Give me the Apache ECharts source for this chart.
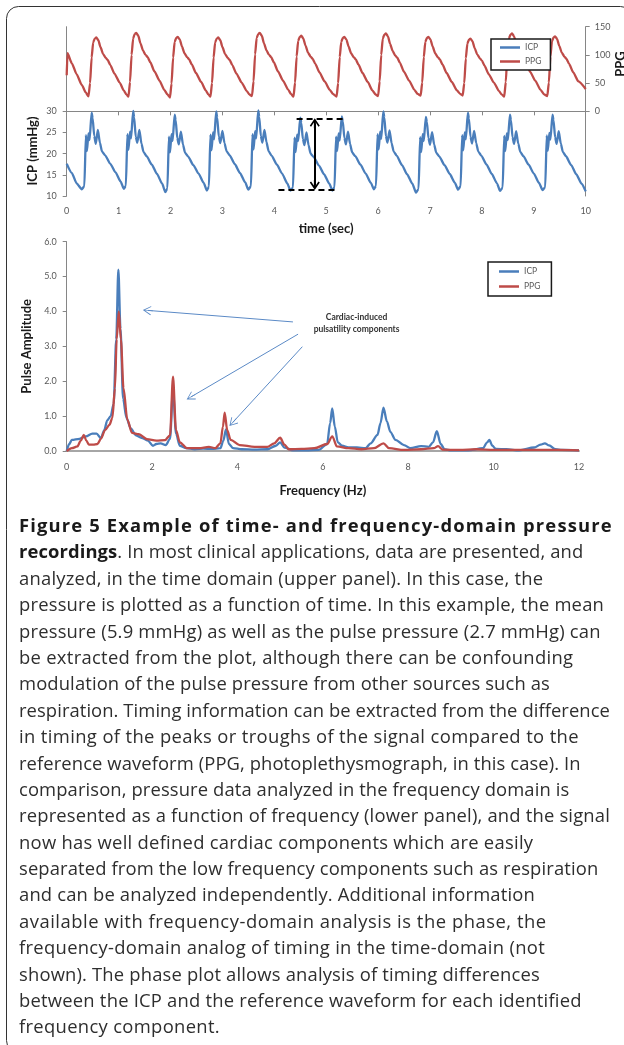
<!DOCTYPE html>
<html>
<head>
<meta charset="utf-8">
<script src="https://cdn.jsdelivr.net/npm/echarts@6/dist/echarts.min.js"></script>
<style>
  html, body { margin: 0; padding: 0; background: #fff; }
  #wrap { position: relative; width: 624px; height: 1045px; overflow: hidden; }
  #chart { position: absolute; left: 0; top: 0; width: 624px; height: 1045px; }
  #cap { position: absolute; left: 19px; top: 512px; font-family: "Open Sans", sans-serif; font-size: 18.4px;
         font-weight: 400; line-height: 26.4px; color: #2e2e2e; white-space: nowrap; }
  #cap > div { height: 26.4px; }
  #cap span.ln { display: inline-block; }
  #cap b { font-weight: 700; color: #1a1a1a; }
</style>
</head>
<body>
<div id="wrap">
  <div id="chart"></div>
  <div id="cap">
    <div><span class="ln"><b>Figure 5 Example of time- and frequency-domain pressure</b></span></div>
    <div><span class="ln"><b>recordings</b>. In most clinical applications, data are presented, and</span></div>
    <div><span class="ln">analyzed, in the time domain (upper panel). In this case, the</span></div>
    <div><span class="ln">pressure is plotted as a function of time. In this example, the mean</span></div>
    <div><span class="ln">pressure (5.9 mmHg) as well as the pulse pressure (2.7 mmHg) can</span></div>
    <div><span class="ln">be extracted from the plot, although there can be confounding</span></div>
    <div><span class="ln">modulation of the pulse pressure from other sources such as</span></div>
    <div><span class="ln">respiration. Timing information can be extracted from the difference</span></div>
    <div><span class="ln">in timing of the peaks or troughs of the signal compared to the</span></div>
    <div><span class="ln">reference waveform (PPG, photoplethysmograph, in this case). In</span></div>
    <div><span class="ln">comparison, pressure data analyzed in the frequency domain is</span></div>
    <div><span class="ln">represented as a function of frequency (lower panel), and the signal</span></div>
    <div><span class="ln">now has well defined cardiac components which are easily</span></div>
    <div><span class="ln">separated from the low frequency components such as respiration</span></div>
    <div><span class="ln">and can be analyzed independently. Additional information</span></div>
    <div><span class="ln">available with frequency-domain analysis is the phase, the</span></div>
    <div><span class="ln">frequency-domain analog of timing in the time-domain (not</span></div>
    <div><span class="ln">shown). The phase plot allows analysis of timing differences</span></div>
    <div><span class="ln">between the ICP and the reference waveform for each identified</span></div>
    <div><span class="ln">frequency component.</span></div>
  </div>
</div>
<script>
// ---------------- DATA ----------------
// Upper panel: time (sec) vs ICP (mmHg)
const icpTime = [
  [0,17.6],[0.1,15.4],[0.19,13.0],[0.29,11.6],
  [0.34,12.3],[0.37,24.4],[0.39,20.6],[0.42,24.8],[0.44,23.2],[0.48,29.7],[0.50,28.4],[0.53,24.2],[0.56,22.3],[0.60,25.6],[0.64,22.6],[0.68,20.5],[0.74,19.6],[0.84,17.6],[0.94,15.6],[1.04,13.4],[1.10,11.7],
  [1.14,12.4],[1.17,24.6],[1.19,20.9],[1.22,25.2],[1.24,23.6],[1.28,30.1],[1.30,28.6],[1.33,24.0],[1.36,22.6],[1.40,25.6],[1.44,22.4],[1.48,20.4],[1.54,19.4],[1.64,17.4],[1.74,15.2],[1.84,12.9],[1.90,10.9],
  [1.94,11.8],[1.97,24.0],[1.99,20.3],[2.02,24.6],[2.04,23.0],[2.08,29.2],[2.10,27.9],[2.13,23.7],[2.16,22.2],[2.20,25.2],[2.24,22.2],[2.28,20.2],[2.34,19.3],[2.44,17.3],[2.54,15.3],[2.64,13.1],[2.70,11.3],
  [2.74,12.2],[2.77,24.5],[2.79,20.8],[2.82,25.0],[2.84,23.4],[2.88,30.0],[2.90,28.5],[2.93,24.1],[2.96,22.5],[3.00,25.4],[3.04,22.5],[3.08,20.6],[3.14,19.6],[3.24,17.5],[3.34,15.4],[3.44,13.2],[3.50,11.5],
  [3.55,12.3],[3.58,24.6],[3.60,21.0],[3.63,25.3],[3.65,23.6],[3.69,30.2],[3.71,28.7],[3.74,24.2],[3.77,22.6],[3.81,25.6],[3.85,22.7],[3.89,20.6],[3.95,19.5],[4.05,17.4],[4.15,15.3],[4.25,13.0],[4.31,11.3],
  [4.36,12.0],[4.39,23.8],[4.41,20.4],[4.44,24.5],[4.46,23.0],[4.50,28.5],[4.52,27.3],[4.55,23.5],[4.58,22.0],[4.62,25.0],[4.66,22.0],[4.70,20.0],[4.76,19.2],[4.86,17.2],[4.96,15.1],[5.06,12.9],[5.12,11.3],
  [5.16,12.1],[5.19,24.0],[5.21,20.6],[5.24,24.8],[5.26,23.1],[5.30,28.8],[5.32,27.6],[5.35,23.8],[5.38,22.2],[5.42,25.2],[5.46,22.3],[5.50,20.3],[5.56,19.4],[5.66,17.4],[5.76,15.3],[5.86,13.1],[5.92,11.6],
  [5.96,12.4],[5.99,24.6],[6.01,21.0],[6.04,25.2],[6.06,23.5],[6.10,30.0],[6.12,28.6],[6.15,24.2],[6.18,22.6],[6.22,25.5],[6.26,22.5],[6.30,20.5],[6.36,19.5],[6.46,17.3],[6.56,15.1],[6.66,12.9],[6.73,10.8],
  [6.78,11.7],[6.81,23.9],[6.83,20.4],[6.86,24.6],[6.88,23.0],[6.92,28.7],[6.94,27.5],[6.97,23.7],[7.00,22.1],[7.04,25.1],[7.08,22.2],[7.12,20.2],[7.18,19.3],[7.28,17.3],[7.38,15.2],[7.48,13.1],[7.54,11.5],
  [7.59,12.3],[7.62,24.4],[7.64,20.8],[7.67,25.0],[7.69,23.4],[7.73,29.7],[7.75,28.3],[7.78,24.0],[7.81,22.4],[7.85,25.4],[7.89,22.5],[7.93,20.5],[7.99,19.5],[8.09,17.4],[8.19,15.2],[8.29,13.0],[8.35,11.2],
  [8.40,12.0],[8.43,24.2],[8.45,20.6],[8.48,24.8],[8.50,23.2],[8.54,29.2],[8.56,27.9],[8.59,23.9],[8.62,22.3],[8.66,25.3],[8.70,22.4],[8.74,20.4],[8.80,19.4],[8.90,17.4],[9.00,15.3],[9.10,13.1],[9.17,11.4],
  [9.22,12.1],[9.25,24.3],[9.27,20.7],[9.30,24.9],[9.32,23.3],[9.36,29.2],[9.38,27.9],[9.41,23.9],[9.44,22.3],[9.48,25.3],[9.52,22.4],[9.56,20.4],[9.62,19.4],[9.72,17.3],[9.82,15.1],[9.92,12.9],[10.0,11.1]
];
// Upper panel: time (sec) vs PPG
const ppgTime = [
  [0,64],[0.015,103],[0.1,85],[0.19,66],[0.29,47],[0.37,33],
  [0.42,26.5],[0.45,50],[0.48,95],[0.51,122],[0.54,129],[0.57,131],[0.61,126],[0.65,114],[0.70,102],[0.75,95],[0.79,91],[0.84,82],[0.92,67],[1.02,51],[1.10,37],[1.15,30],
  [1.19,26],[1.22,52],[1.25,100],[1.28,129],[1.31,137],[1.34,139],[1.38,134],[1.42,121],[1.47,108],[1.52,100],[1.56,96],[1.61,87],[1.69,71],[1.79,54],[1.88,38],[1.94,30],
  [1.99,24.5],[2.02,49],[2.05,95],[2.08,123],[2.11,130],[2.14,132],[2.18,127],[2.22,115],[2.27,103],[2.32,96],[2.36,92],[2.41,83],[2.49,68],[2.59,52],[2.68,37],[2.73,30],
  [2.77,26],[2.80,50],[2.83,95],[2.86,122],[2.89,129],[2.92,131],[2.96,126],[3.00,114],[3.05,102],[3.10,95],[3.14,91],[3.19,82],[3.27,67],[3.37,51],[3.47,36],[3.52,30],
  [3.57,27],[3.60,53],[3.63,101],[3.66,130],[3.69,137],[3.72,139],[3.76,134],[3.80,121],[3.85,108],[3.90,100],[3.94,96],[3.99,87],[4.07,71],[4.17,54],[4.27,38],[4.32,31],
  [4.37,26],[4.40,51],[4.43,97],[4.46,125],[4.49,132],[4.52,134],[4.56,129],[4.60,117],[4.65,104],[4.70,97],[4.74,93],[4.79,84],[4.87,69],[4.97,53],[5.07,38],[5.13,31],
  [5.20,26],[5.23,50],[5.26,96],[5.29,123],[5.32,130],[5.35,132],[5.39,127],[5.43,115],[5.48,103],[5.53,96],[5.57,92],[5.62,83],[5.70,68],[5.80,52],[5.89,37],[5.95,30],
  [6.00,27],[6.03,53],[6.06,100],[6.09,129],[6.12,136],[6.15,138],[6.19,133],[6.23,120],[6.28,107],[6.33,99],[6.37,95],[6.42,86],[6.50,70],[6.60,54],[6.70,38],[6.76,31],
  [6.82,28],[6.85,51],[6.88,96],[6.91,123],[6.94,130],[6.97,132],[7.01,127],[7.05,115],[7.10,103],[7.15,96],[7.19,92],[7.24,83],[7.32,68],[7.42,52],[7.52,37],[7.58,31],
  [7.63,28],[7.66,50],[7.69,94],[7.72,120],[7.75,127],[7.78,129],[7.82,124],[7.86,112],[7.91,101],[7.96,94],[8.00,90],[8.05,81],[8.13,66],[8.23,51],[8.33,36],[8.38,30],
  [8.43,26],[8.46,52],[8.49,100],[8.52,129],[8.55,136],[8.58,138],[8.62,133],[8.66,120],[8.71,107],[8.76,99],[8.80,95],[8.85,86],[8.93,70],[9.03,54],[9.13,38],[9.20,30],
  [9.26,27],[9.29,51],[9.32,97],[9.35,124],[9.38,131],[9.41,133],[9.45,128],[9.49,116],[9.54,104],[9.59,97],[9.63,93],[9.68,84],[9.76,69],[9.86,53],[10.0,39.5]
];
// Lower panel: frequency (Hz) vs pulse amplitude
const icpSpectrum = [
  [0,0],[0.06,0.2],[0.12,0.32],[0.3,0.35],[0.45,0.42],[0.6,0.5],[0.7,0.5],[0.8,0.37],[0.88,0.6],[0.95,0.88],[1.03,1.0],[1.1,1.35],[1.16,3.2],[1.21,5.2],[1.26,3.5],[1.32,1.5],[1.4,0.95],[1.5,0.65],[1.62,0.45],[1.75,0.38],[1.9,0.3],[2.02,0.15],[2.1,0.2],[2.2,0.22],[2.32,0.17],[2.42,0.35],[2.49,1.75],[2.56,0.5],[2.65,0.15],[2.8,0.08],[3.0,0.05],[3.2,0.07],[3.4,0.06],[3.6,0.08],[3.67,0.3],[3.73,0.62],[3.8,0.2],[3.9,0.08],[4.1,0.05],[4.4,0.04],[4.7,0.05],[4.9,0.15],[5.0,0.25],[5.1,0.1],[5.3,0.02],[5.6,0.02],[5.9,0.03],[6.1,0.2],[6.17,0.8],[6.22,1.22],[6.28,0.7],[6.35,0.25],[6.45,0.15],[6.6,0.1],[6.8,0.1],[7.0,0.08],[7.12,0.22],[7.28,0.46],[7.35,0.8],[7.42,1.24],[7.5,0.85],[7.58,0.55],[7.7,0.32],[7.9,0.17],[8.05,0.08],[8.3,0.14],[8.48,0.12],[8.58,0.25],[8.67,0.57],[8.76,0.2],[8.85,0.05],[9.0,0.02],[9.4,0.02],[9.75,0.08],[9.85,0.25],[9.9,0.32],[9.97,0.15],[10.05,0.06],[10.3,0.05],[10.6,0.02],[10.95,0.1],[11.1,0.18],[11.2,0.22],[11.3,0.16],[11.45,0.05],[11.6,0.03],[12,0.02]
];
const ppgSpectrum = [
  [0,0],[0.12,0.08],[0.25,0.13],[0.33,0.3],[0.4,0.46],[0.46,0.3],[0.52,0.18],[0.62,0.18],[0.72,0.2],[0.8,0.35],[0.9,0.6],[1.0,0.75],[1.07,0.95],[1.13,1.8],[1.17,3.2],[1.22,4.0],[1.27,3.2],[1.33,1.8],[1.42,0.9],[1.53,0.52],[1.69,0.48],[1.88,0.34],[2.1,0.3],[2.3,0.31],[2.42,0.45],[2.49,2.13],[2.56,0.6],[2.65,0.25],[2.82,0.08],[3.1,0.08],[3.33,0.12],[3.48,0.08],[3.6,0.22],[3.66,0.7],[3.7,1.1],[3.76,0.6],[3.84,0.32],[4.05,0.17],[4.4,0.12],[4.7,0.12],[4.86,0.22],[5.0,0.38],[5.1,0.18],[5.2,0.05],[5.5,0.06],[5.8,0.08],[6.1,0.2],[6.22,0.42],[6.33,0.13],[6.6,0.08],[6.9,0.05],[7.2,0.08],[7.42,0.22],[7.55,0.08],[7.9,0.03],[8.3,0.05],[8.6,0.08],[8.7,0.14],[8.8,0.04],[9.2,0.03],[9.6,0.05],[10.0,0.03],[10.5,0.03],[11.0,0.03],[11.5,0.03],[12,0.02]
];
// Tick labels shown
const icpTicks = [10, 15, 20, 25, 30];
const ppgTicks = [0, 50, 100, 150];
// Pulse-pressure annotation (time, ICP): dashed levels and double arrow (arrow ends sit just inside the levels)
const pulseTop = [[4.43, 28.36], [5.33, 28.36]];
const pulseBottom = [[4.08, 11.42], [5.21, 11.42]];
const pulseArrow = [[4.78, 27.2], [4.78, 12.6]];
// Spectrum annotation arrows (from label towards peaks), in (Hz, amplitude)
const peakArrows = [
  [[5.30, 3.70], [1.90, 4.03]],
  [[5.42, 3.35], [2.91, 1.55]],
  [[5.52, 2.99], [3.89, 0.82]]
];
const noteAt = [6.79, 3.66];
const noteText = 'Cardiac-induced\npulsatility components';

// ---------------- CAPTION FIT (layout only: right edge of each caption line, px) ----------------
const captionRightEdges = [612.7, 583.3, 543.3, 604, 600.7, 573.3, 550, 610, 579, 580.7, 569.3, 610, 533.3, 598.3, 535, 546.7, 545, 540, 581.7, 220];
document.querySelectorAll('#cap span.ln').forEach((el, i) => {
  const target = captionRightEdges[i] - 19;
  const w = el.getBoundingClientRect().width;
  const n = el.textContent.length;
  el.style.letterSpacing = ((target - w) / n).toFixed(3) + 'px';
});

// ---------------- CHART ----------------
const BLUE = '#4a7ebb', RED = '#be4b48', AX = '#868686', TL = '#595959';
const FONT = 'Lato, sans-serif';
// open arrow heads (tip at top), with a short shaft so the line reaches the tip
const headBold = 'path://M5,0 L10,7.6 L8.7,8.6 L5.9,4.4 L5.9,10 L4.1,10 L4.1,4.4 L1.3,8.6 L0,7.6 Z';
const headThin = 'path://M5,0 L10,7.8 L9.3,8.4 L5.35,2.2 L5.35,10 L4.65,10 L4.65,2.2 L0.7,8.4 L0,7.8 Z';

const chart = echarts.init(document.getElementById('chart'), null, { renderer: 'canvas' });

const dashStyle = { type: [6, 4], color: '#000', width: 2 };
const axisCommon = {
  axisLine: { show: true, lineStyle: { color: AX, width: 1 } },
  axisTick: { show: true, length: 4, lineStyle: { color: AX } },
  splitLine: { show: false },
  axisLabel: { color: TL, fontSize: 9, fontFamily: FONT }
};
const nameStyle = { fontWeight: 'bold', fontSize: 13, color: '#1a1a1a', fontFamily: FONT };

const option = {
  animation: false,
  textStyle: { fontFamily: FONT },
  grid: [
    { left: 66.7, top: 26.7, width: 519, height: 169.3 },
    { left: 66.7, top: 241.7, width: 512.3, height: 209.3 }
  ],
  xAxis: [
    Object.assign({}, axisCommon, {
      gridIndex: 0, type: 'value', min: 0, max: 10, interval: 1,
      axisLabel: Object.assign({}, axisCommon.axisLabel, { margin: 11 }),
      name: 'time (sec)', nameLocation: 'middle', nameGap: 26, nameTextStyle: nameStyle
    }),
    Object.assign({}, axisCommon, {
      gridIndex: 1, type: 'value', min: 0, max: 12, interval: 2,
      axisLine: { show: true, lineStyle: { color: '#a6a6a6', width: 2 } },
      axisTick: { show: false },
      axisLabel: Object.assign({}, axisCommon.axisLabel, { margin: 12 }),
      name: 'Frequency (Hz)', nameLocation: 'middle', nameGap: 33, nameTextStyle: nameStyle
    })
  ],
  yAxis: [
    Object.assign({}, axisCommon, {
      gridIndex: 0, type: 'value', position: 'left', min: 10, max: 50,
      axisTick: { show: true, length: 4, lineStyle: { color: AX }, customValues: icpTicks },
      axisLabel: Object.assign({}, axisCommon.axisLabel, { margin: 10, customValues: icpTicks })
    }),
    Object.assign({}, axisCommon, {
      gridIndex: 0, type: 'value', position: 'right', min: -150, max: 150,
      axisTick: { show: true, length: 4, lineStyle: { color: AX }, customValues: ppgTicks },
      axisLabel: Object.assign({}, axisCommon.axisLabel, { margin: 9, customValues: ppgTicks })
    }),
    Object.assign({}, axisCommon, {
      gridIndex: 1, type: 'value', min: 0, max: 6, interval: 1,
      axisLabel: Object.assign({}, axisCommon.axisLabel, { margin: 10, formatter: v => v.toFixed(1) }),
      name: 'Pulse Amplitude', nameLocation: 'middle', nameGap: 32, nameTextStyle: nameStyle
    })
  ],
  legend: [
    {
      data: ['ICP', 'PPG'], orient: 'vertical', left: 491, top: 39,
      padding: [4, 9, 4, 9], itemGap: 5, itemWidth: 20, itemHeight: 2.5, icon: 'rect',
      borderColor: '#1a1a1a', borderWidth: 1.5, backgroundColor: '#fff',
      textStyle: { fontSize: 8.5, color: TL, fontFamily: FONT }, selectedMode: false, z: 20
    },
    {
      data: ['ICP', 'PPG'], orient: 'vertical', left: 488, top: 262,
      padding: [5, 11, 5, 11], itemGap: 6, itemWidth: 20, itemHeight: 2.5, icon: 'rect',
      borderColor: '#1a1a1a', borderWidth: 1.5, backgroundColor: '#fff',
      textStyle: { fontSize: 8.5, color: TL, fontFamily: FONT }, selectedMode: false, z: 20
    }
  ],
  series: [
    {
      name: 'ICP', type: 'line', xAxisIndex: 0, yAxisIndex: 0, data: icpTime,
      showSymbol: false, smooth: 0.2, smoothMonotone: 'x',
      itemStyle: { color: BLUE }, lineStyle: { color: BLUE, width: 2.3 },
      markLine: {
        silent: true, animation: false, label: { show: false },
        emphasis: { disabled: true },
        data: [
          [{ coord: pulseTop[0], symbol: 'none', lineStyle: dashStyle }, { coord: pulseTop[1], symbol: 'none' }],
          [{ coord: pulseBottom[0], symbol: 'none', lineStyle: dashStyle }, { coord: pulseBottom[1], symbol: 'none' }],
          [{ coord: pulseArrow[0], symbol: headBold, symbolSize: [10, 10], lineStyle: { type: 'solid', color: '#000', width: 2 } },
           { coord: pulseArrow[1], symbol: headBold, symbolSize: [10, 10] }]
        ]
      }
    },
    {
      name: 'PPG', type: 'line', xAxisIndex: 0, yAxisIndex: 1, data: ppgTime,
      showSymbol: false, smooth: 0.2, smoothMonotone: 'x',
      itemStyle: { color: RED }, lineStyle: { color: RED, width: 2.3 }
    },
    {
      name: 'ICP', type: 'line', xAxisIndex: 1, yAxisIndex: 2, data: icpSpectrum,
      showSymbol: false, smooth: 0.3, smoothMonotone: 'x',
      itemStyle: { color: BLUE }, lineStyle: { color: BLUE, width: 2.3 },
      markLine: {
        silent: true, animation: false, label: { show: false },
        emphasis: { disabled: true },
        lineStyle: { type: 'solid', color: '#5b8ac6', width: 1 },
        data: peakArrows.map(a => [
          { coord: a[0], symbol: 'none' },
          { coord: a[1], symbol: headThin, symbolSize: [9, 10] }
        ])
      },
      markPoint: {
        silent: true, animation: false,
        data: [{
          coord: noteAt, symbol: 'circle', symbolSize: 0,
          label: {
            show: true, position: 'inside', formatter: noteText,
            fontSize: 8.5, fontWeight: 'bold', color: '#333', lineHeight: 12, fontFamily: FONT, align: 'center'
          }
        }]
      }
    },
    {
      name: 'PPG', type: 'line', xAxisIndex: 1, yAxisIndex: 2, data: ppgSpectrum,
      showSymbol: false, smooth: 0.3, smoothMonotone: 'x',
      itemStyle: { color: RED }, lineStyle: { color: RED, width: 2.3 }
    }
  ],
  graphic: [
    { type: 'rect', silent: true, z: 100,
      shape: { x: 6.5, y: 6.5, width: 626, height: 1046, r: 12 },
      style: { fill: 'none', stroke: '#333', lineWidth: 1 } },
    { type: 'text', silent: true, x: 33, y: 151, rotation: Math.PI / 2,
      style: { text: 'ICP (mmHg)', fontSize: 13, fontWeight: 'bold', fill: '#1a1a1a', fontFamily: FONT,
               align: 'center', verticalAlign: 'middle' } },
    { type: 'text', silent: true, x: 621, y: 64, rotation: Math.PI / 2,
      style: { text: 'PPG', fontSize: 13, fontWeight: 'bold', fill: '#1a1a1a', fontFamily: FONT,
               align: 'center', verticalAlign: 'middle' } }
  ]
};
chart.setOption(option);
</script>
</body>
</html>
